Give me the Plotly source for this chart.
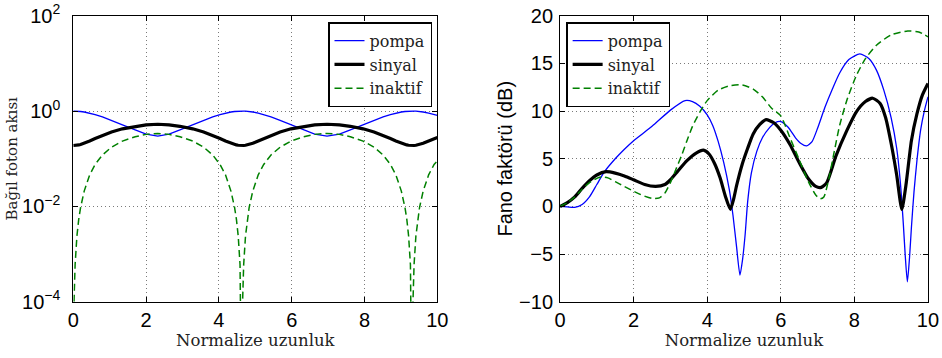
import plotly.graph_objects as go
from plotly.subplots import make_subplots

# ---------------- Left panel data (log scale) ----------------
x_left = [0, 0.02, 0.05, 0.1, 0.15, 0.2, 0.3, 0.45, 0.6, 0.8, 1.05, 1.35, 1.7, 2.0, 2.32,
          2.63, 2.93, 3.28, 3.58, 3.83, 4.03, 4.18, 4.33, 4.43, 4.48, 4.53, 4.58, 4.61, 4.63,
          4.65, 4.68, 4.73, 4.78, 4.83, 4.93, 5.08, 5.23, 5.43, 5.68, 5.98, 6.33, 6.63, 6.97,
          7.31, 7.61, 7.96, 8.26, 8.51, 8.71, 8.86, 9.01, 9.11, 9.16, 9.21, 9.26, 9.29, 9.31,
          9.33, 9.36, 9.41, 9.46, 9.51, 9.61, 9.76, 9.91, 10.0]

pompa_left = [1.0, 1.0, 0.999, 0.995, 0.989, 0.98, 0.957, 0.905, 0.843, 0.753, 0.64, 0.516, 0.403, 0.33, 0.30,
              0.33, 0.403, 0.516, 0.64, 0.753, 0.843, 0.905, 0.957, 0.98, 0.989, 0.995, 0.999, 1.0, 1.0,
              1.0, 0.999, 0.995, 0.989, 0.98, 0.957, 0.905, 0.843, 0.753, 0.64, 0.516, 0.403, 0.33, 0.30,
              0.33, 0.403, 0.516, 0.64, 0.753, 0.843, 0.905, 0.957, 0.98, 0.989, 0.995, 0.999, 1.0, 1.0,
              1.0, 0.999, 0.995, 0.989, 0.98, 0.957, 0.905, 0.843, 0.815]

sinyal_left = [0.19, 0.19, 0.19, 0.192, 0.195, 0.2, 0.211, 0.236, 0.266, 0.31, 0.365, 0.425, 0.48, 0.515, 0.53,
               0.515, 0.48, 0.425, 0.365, 0.31, 0.266, 0.236, 0.211, 0.2, 0.195, 0.192, 0.19, 0.19, 0.19,
               0.19, 0.19, 0.192, 0.195, 0.2, 0.211, 0.236, 0.266, 0.31, 0.365, 0.425, 0.48, 0.515, 0.53,
               0.515, 0.48, 0.425, 0.365, 0.31, 0.266, 0.236, 0.211, 0.2, 0.195, 0.192, 0.19, 0.19, 0.19,
               0.19, 0.19, 0.192, 0.195, 0.2, 0.211, 0.236, 0.266, 0.28]

inaktif_left = [1e-7, 1.0e-4, 6e-4, 2.4e-3, 5.4e-3, 9.5e-3, 0.021, 0.046, 0.076, 0.12, 0.175, 0.235, 0.29, 0.325, 0.34,
                0.325, 0.29, 0.235, 0.175, 0.12, 0.076, 0.046, 0.021, 9.5e-3, 5.4e-3, 2.4e-3, 6e-4, 1.0e-4, 1e-7,
                1.0e-4, 6e-4, 2.4e-3, 5.4e-3, 9.5e-3, 0.021, 0.046, 0.076, 0.12, 0.175, 0.235, 0.29, 0.325, 0.34,
                0.325, 0.29, 0.235, 0.175, 0.12, 0.076, 0.046, 0.021, 9.5e-3, 5.4e-3, 2.4e-3, 6e-4, 1.0e-4, 1e-7,
                1.0e-4, 6e-4, 2.4e-3, 5.4e-3, 9.5e-3, 0.021, 0.046, 0.076, 0.09]

# ---------------- Right panel data (Fano factor, dB) ----------------
x_pompa_r = [0, 0.2, 0.4, 0.6, 0.8, 1.0, 1.2, 1.5, 1.75, 2.0, 2.5, 3.0, 3.4, 3.6, 3.8, 4.0, 4.15, 4.3,
             4.45, 4.6, 4.7, 4.8, 4.89, 4.96, 5.03, 5.1, 5.2, 5.35, 5.5, 5.7, 5.85, 6.0, 6.2, 6.4,
             6.55, 6.7, 6.85, 7.0, 7.2, 7.4, 7.6, 7.85, 8.15, 8.4, 8.6, 8.8, 9.0, 9.15, 9.25, 9.33,
             9.38, 9.44, 9.5, 9.55, 9.62, 9.7, 9.8, 9.9, 10.0]
pompa_right = [0, -0.05, -0.1, 0.2, 1.0, 2.3, 3.6, 5.0, 6.0, 6.9, 8.4, 10.1, 11.1, 11.0, 10.5, 9.6, 8.5, 6.8,
               4.6, 1.8, -0.9, -4.3, -7.2, -5.6, -3.0, 0.5, 3.5, 5.8, 7.2, 8.3, 8.8, 8.9, 8.3, 7.2,
               6.6, 6.35, 6.8, 8.2, 10.4, 12.3, 14.0, 15.4, 16.0, 15.5, 14.3, 12.2, 9.3, 6.1, 2.5, -1.8,
               -5.0, -7.9, -5.3, -2.2, 1.5, 4.8, 8.0, 10.0, 11.5]

x_sinyal_r = [0, 0.2, 0.4, 0.6, 0.8, 1.0, 1.25, 1.5, 1.75, 2.0, 2.3, 2.6, 2.85, 3.0, 3.2, 3.45, 3.7, 3.9,
              4.05, 4.2, 4.35, 4.5, 4.63, 4.72, 4.8, 4.95, 5.1, 5.25, 5.43, 5.6, 5.8, 6.0, 6.25, 6.5,
              6.75, 6.95, 7.1, 7.25, 7.5, 7.8, 8.05, 8.3, 8.5, 8.7, 8.85, 9.0, 9.15, 9.29, 9.4, 9.55,
              9.7, 9.85, 10.0]
sinyal_right = [0, 0.4, 1.0, 1.9, 2.7, 3.3, 3.65, 3.5, 3.2, 2.8, 2.3, 2.1, 2.3, 2.8, 3.7, 4.8, 5.6, 5.9,
                5.5, 4.5, 3.0, 1.0, -0.3, 0.8, 2.2, 4.4, 6.1, 7.6, 8.6, 9.1, 8.8, 8.0, 6.5, 4.6,
                2.9, 2.1, 2.0, 2.5, 5.3, 8.0, 9.9, 11.0, 11.35, 10.8, 9.3, 6.6, 3.3, -0.3, 2.2, 6.9,
                9.7, 11.7, 12.9]

x_inaktif_r = [0, 0.2, 0.4, 0.6, 0.8, 1.0, 1.15, 1.3, 1.5, 1.75, 2.0, 2.25, 2.5, 2.7, 2.85, 3.0, 3.15, 3.3,
               3.45, 3.6, 3.8, 4.0, 4.3, 4.6, 4.95, 5.25, 5.5, 5.75, 6.0, 6.25, 6.5, 6.75, 6.95, 7.07,
               7.17, 7.3, 7.45, 7.6, 7.8, 8.05, 8.3, 8.6, 9.0, 9.45, 9.75, 10.0]
inaktif_right = [0, 0.4, 1.0, 1.8, 2.5, 2.95, 3.1, 3.0, 2.6, 2.1, 1.6, 1.15, 0.85, 0.9, 1.4, 2.5, 3.9, 5.3,
                 6.9, 8.4, 9.9, 11.1, 12.2, 12.65, 12.75, 12.3, 11.5, 10.3, 9.5, 7.2, 4.9, 2.6, 1.2, 0.8,
                 1.0, 2.8, 5.7, 8.5, 11.2, 13.7, 15.5, 16.9, 18.0, 18.4, 18.3, 17.8]

x_ticks = [0, 2, 4, 6, 8, 10]
left_y_tickvals = [1e-4, 1e-2, 1e0, 1e2]
left_y_ticktext = ["10<sup>\u22124</sup>", "10<sup>\u22122</sup>", "10<sup>0</sup>", "10<sup>2</sup>"]
right_y_ticks = [-10, -5, 0, 5, 10, 15, 20]

names = ["pompa", "sinyal", "inaktif"]
colors = ["#0000ff", "#000000", "#008000"]
widths = [1.3, 3.2, 1.5]
dashes = ["solid", "solid", "7px,4px"]

SANS = "Liberation Sans, Arial, sans-serif"
SERIF = "DejaVu Serif, serif"

fig = make_subplots(rows=1, cols=2)

left_series = [pompa_left, sinyal_left, inaktif_left]
for name, ys, c, w, d in zip(names, left_series, colors, widths, dashes):
    fig.add_trace(go.Scatter(x=x_left, y=ys, mode="lines", name=name,
                             line=dict(color=c, width=w, dash=d),
                             legend="legend"), row=1, col=1)

right_x = [x_pompa_r, x_sinyal_r, x_inaktif_r]
right_series = [pompa_right, sinyal_right, inaktif_right]
for name, xs, ys, c, w, d in zip(names, right_x, right_series, colors, widths, dashes):
    fig.add_trace(go.Scatter(x=xs, y=ys, mode="lines", name=name,
                             line=dict(color=c, width=w, dash=d, shape="spline", smoothing=0.6),
                             legend="legend2"), row=1, col=2)

axis_common = dict(showline=True, linecolor="black", linewidth=1, mirror="ticks",
                   ticks="inside", ticklen=5, tickcolor="black", automargin=False,
                   showgrid=True, gridcolor="#7a7a7a", griddash="1px,3px", gridwidth=1,
                   zeroline=False, tickfont=dict(family=SANS, size=20, color="black"))

TITLE_SERIF = dict(family=SERIF, size=16.5, color="#222")

fig.update_xaxes(**axis_common, range=[0, 10], tickvals=x_ticks, ticklabelstandoff=0)
fig.update_xaxes(domain=[0.0778, 0.4643], row=1, col=1,
                 title=dict(text="Normalize uzunluk", font=TITLE_SERIF, standoff=4))
fig.update_xaxes(domain=[0.5945, 0.9851], row=1, col=2,
                 title=dict(text="Normalize uzunluk", font=TITLE_SERIF, standoff=4))

fig.update_yaxes(**axis_common)
fig.update_yaxes(type="log", range=[-4, 2], tickvals=left_y_tickvals, ticktext=left_y_ticktext,
                 domain=[0.157, 0.956], row=1, col=1, ticklabelstandoff=8,
                 title=dict(text="Bağıl foton akısı", font=dict(family=SERIF, size=15, color="#222"),
                            standoff=0))
fig.update_yaxes(range=[-10, 20], tickvals=right_y_ticks, domain=[0.157, 0.956], row=1, col=2,
                 ticklabelstandoff=2,
                 title=dict(text="Fano faktörü (dB)", font=dict(family=SANS, size=20, color="black"), standoff=1))

legend_common = dict(bgcolor="white", bordercolor="black", borderwidth=1.5,
                     font=dict(family=SERIF, size=16, color="#222"),
                     xref="paper", yref="paper", yanchor="top", tracegroupgap=0)

fig.update_layout(
    width=942, height=358,
    margin=dict(l=0, r=0, t=0, b=0, autoexpand=False),
    paper_bgcolor="white", plot_bgcolor="white",
    showlegend=True,
    legend=dict(**legend_common, x=0.4586, xanchor="right", y=0.938),
    legend2=dict(**legend_common, x=0.601, xanchor="left", y=0.938),
)

fig.write_html("out.html")
